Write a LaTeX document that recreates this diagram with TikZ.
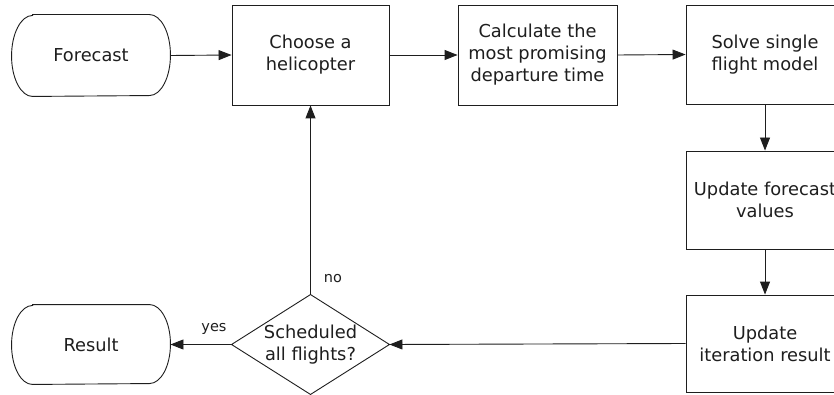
\documentclass[tikz,border=0pt]{standalone}
\usepackage{fontspec}
\setmainfont{DejaVu Sans}
\usetikzlibrary{arrows.meta}
\begin{document}
\begin{tikzpicture}[x=1pt,y=-1pt,
  line width=0.9pt, draw={rgb,255:red,30;green,30;blue,30},
  txt/.style={font=\fontsize{17.8}{22}\selectfont, align=center, text={rgb,255:red,30;green,30;blue,30}},
  box/.style={txt, draw, rectangle, inner sep=0pt, minimum width=#1, minimum height=100},
  box/.default=158,
  holder/.style={txt, rectangle, inner sep=0pt, minimum width=158},
  lbl/.style={font=\fontsize{14.5}{16}\selectfont, text={rgb,255:red,30;green,30;blue,30}},
  arr/.style={-{Triangle[length=13pt,width=10pt]}}
]
\useasboundingbox (0,0) rectangle (834,395);
\clip (0,0) rectangle (834,395);
\fill[white] (0,0) rectangle (834,395);

\node[holder, minimum height=81] (fc) at (91,55.5) {Forecast};
\node[box=157] (ch) at (310.5,55) {Choose a\\helicopter};
\node[box=159] (ca) at (537.5,55) {Calculate the\\most promising\\departure time};
\node[box, minimum height=99] (sv) at (765,54.5) {Solve single\\flight model};
\node[box, minimum height=98] (uf) at (765,200) {Update forecast\\values};
\node[box, minimum height=97] (ui) at (765,343.5) {Update\\iteration result};
\node[holder, minimum width=157, minimum height=99] (dec) at (310.5,344.5) {Scheduled\\all flights?};
\node[holder, minimum height=79] (rs) at (91,344.5) {Result};

% terminal shapes
\draw ([xshift=21pt]fc.north west) -- ([xshift=-21pt]fc.north east)
  arc[start angle=90,end angle=-90,x radius=21pt,y radius=40.5pt]
  -- ([xshift=21pt]fc.south west)
  arc[start angle=270,end angle=90,x radius=21pt,y radius=40.5pt] -- cycle;
\draw ([xshift=21pt]rs.north west) -- ([xshift=-21pt]rs.north east)
  arc[start angle=90,end angle=-90,x radius=21pt,y radius=39.5pt]
  -- ([xshift=21pt]rs.south west)
  arc[start angle=270,end angle=90,x radius=21pt,y radius=39.5pt] -- cycle;
% decision diamond
\draw (dec.north) -- (dec.east) -- (dec.south) -- (dec.west) -- cycle;

% connectors
\draw[arr] (fc.east) -- (ch.west);
\draw[arr] (ch.east) -- (ca.west);
\draw[arr] (ca.east) -- (sv.west);
\draw[arr] (sv.south) -- (uf.north);
\draw[arr] (uf.south) -- (ui.north);
\draw[arr] (ui.west) -- (dec.east);
\draw[arr] (dec.west) -- (rs.east);
\draw[arr] (dec.north) -- (ch.south);

\node[lbl] (no) at (333,279) {no};
\node[lbl] (yes) at (214,329) {yes};
\end{tikzpicture}
\end{document}
